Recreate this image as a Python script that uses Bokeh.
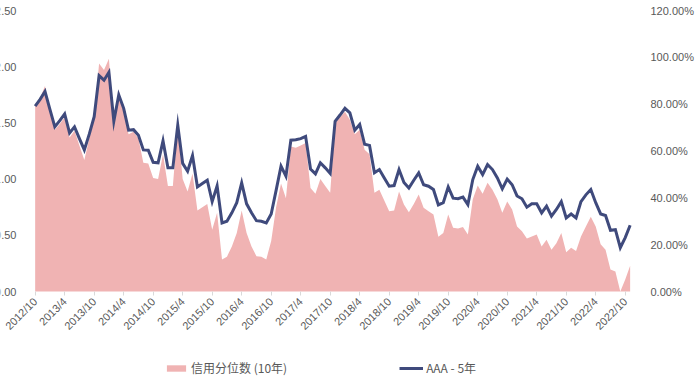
from math import pi
from bokeh.plotting import figure
from bokeh.models import (ColumnDataSource, LinearAxis, Range1d, FixedTicker,
                          PrintfTickFormatter, Legend, LegendItem)
from bokeh.embed import file_html
from bokeh.resources import INLINE

# Monthly observations, 2012/10 .. 2022/11
spread_aaa_5y = [
    1.65, 1.71, 1.78, 1.62, 1.465, 1.52, 1.58, 1.41, 1.465, 1.36,
    1.26, 1.40, 1.555, 1.92, 1.88, 1.95, 1.515, 1.75, 1.63, 1.435,
    1.44, 1.39, 1.26, 1.257, 1.15, 1.145, 1.34, 1.10, 1.10, 1.48,
    1.14, 1.07, 1.21, 0.93, 0.96, 0.99, 0.80, 0.94, 0.61, 0.625,
    0.70, 0.79, 0.967, 0.78, 0.70, 0.63, 0.625, 0.61, 0.69, 0.90,
    1.115, 1.026, 1.346, 1.35, 1.36, 1.38, 1.09, 1.047, 1.145, 1.10,
    1.05, 1.515, 1.57, 1.63, 1.59, 1.435, 1.486, 1.31, 1.30, 1.056,
    1.085, 1.01, 0.937, 0.943, 1.085, 0.97, 0.92, 0.99, 1.056, 0.95,
    0.937, 0.907, 0.77, 0.79, 0.93, 0.83, 0.825, 0.84, 0.774, 0.996,
    1.115, 1.04, 1.13, 1.085, 1.01, 0.914, 1.0, 0.95, 0.85, 0.825,
    0.75, 0.78, 0.78, 0.70, 0.76, 0.67, 0.73, 0.80, 0.655, 0.69,
    0.655, 0.80, 0.86, 0.907, 0.79, 0.69, 0.676, 0.545, 0.55, 0.39,
    0.48, 0.59,
]

credit_pct_10y = [
    79.2, 82.6, 87.8, 76.8, 69.1, 71.5, 74.4, 65.8, 68.6, 62.4,
    56.2, 65.3, 74.4, 97.4, 94.6, 99.4, 72.0, 85.9, 76.8, 67.2,
    68.2, 65.3, 55.0, 54.7, 48.5, 48.0, 58.6, 45.1, 45.1, 70.6,
    48.0, 42.7, 50.4, 34.6, 36.0, 37.4, 26.4, 33.6, 13.7, 14.9,
    19.2, 25.0, 34.6, 25.0, 19.2, 15.1, 14.9, 13.7, 21.6, 36.0,
    46.1, 39.8, 61.9, 61.4, 62.4, 63.4, 44.2, 41.8, 48.0, 45.1,
    42.2, 72.0, 74.4, 76.8, 73.4, 67.2, 69.1, 60.5, 58.6, 42.2,
    43.5, 38.9, 34.3, 34.6, 42.7, 37.2, 33.9, 37.4, 41.4, 35.8,
    34.3, 32.9, 23.4, 25.0, 32.9, 27.2, 26.9, 27.6, 24.3, 39.4,
    45.3, 41.8, 46.4, 43.5, 39.4, 33.6, 38.4, 35.0, 27.8, 25.7,
    22.6, 23.5, 24.3, 19.2, 22.1, 17.8, 20.6, 25.0, 16.8, 18.7,
    17.3, 23.5, 27.8, 31.9, 27.8, 20.2, 17.8, 9.4, 8.6, 0.0,
    5.1, 11.0,
]

tick_labels = [
    "2012/10", "2013/4", "2013/10", "2014/4", "2014/10", "2015/4", "2015/10",
    "2016/4", "2016/10", "2017/4", "2017/10", "2018/4", "2018/10", "2019/4",
    "2019/10", "2020/4", "2020/10", "2021/4", "2021/10", "2022/4", "2022/10",
]

left_ticks = [0.0, 0.5, 1.0, 1.5, 2.0, 2.5]
right_ticks = [0, 20, 40, 60, 80, 100, 120]

x_idx = list(range(len(spread_aaa_5y)))
tick_pos = [i * 6 for i in range(len(tick_labels))]

src = ColumnDataSource(dict(x=x_idx, spread=spread_aaa_5y, pctv=credit_pct_10y))

AREA = "#F0B3B3"
LINE = "#3F4A7C"
TXT = "#595959"

# frame reaches past the plotting area so the in-frame axes' labels and the
# legend are not clipped
LEFT_MIN, LEFT_MAX = -0.756, 2.589
SCALE = 120 / 2.5
X_START, X_END = -7.05, 122.7
Y_AXIS_AT = -0.35

p = figure(frame_width=638, frame_height=376, x_range=Range1d(X_START, X_END),
           y_range=Range1d(LEFT_MIN, LEFT_MAX), output_backend="svg",
           toolbar_location=None, min_border_left=0, min_border_right=10,
           min_border_top=0, min_border_bottom=2)
p.extra_y_ranges = {"pct": Range1d(LEFT_MIN * SCALE, LEFT_MAX * SCALE)}
p.outline_line_color = None
p.xgrid.visible = False
p.ygrid.visible = False

r_area = p.varea(x="x", y1=0, y2="pctv", source=src, y_range_name="pct",
                 fill_color=AREA)
r_line = p.line(x="x", y="spread", source=src, line_color=LINE, line_width=3,
                line_join="miter")

xa = p.xaxis[0]
xa.fixed_location = 0
xa.ticker = FixedTicker(ticks=tick_pos)
xa.major_label_overrides = {t: l for t, l in zip(tick_pos, tick_labels)}
xa.major_label_orientation = pi / 4
xa.axis_line_color = None
xa.major_tick_line_color = "#D9D9D9"
xa.major_tick_in = 0
xa.major_tick_out = 4
xa.minor_tick_line_color = None
xa.major_label_text_font = "Liberation Sans"
xa.major_label_text_font_size = "11px"
xa.major_label_text_color = TXT
xa.major_label_standoff = 4

ya = p.yaxis[0]
ya.fixed_location = Y_AXIS_AT
ya.ticker = FixedTicker(ticks=left_ticks)
ya.formatter = PrintfTickFormatter(format="%.2f")
ya.axis_line_color = None
ya.major_tick_line_color = None
ya.minor_tick_line_color = None
ya.major_label_text_font = "Liberation Sans"
ya.major_label_text_font_size = "11px"
ya.major_label_text_color = TXT
ya.major_label_standoff = 11

ra = LinearAxis(y_range_name="pct", ticker=FixedTicker(ticks=right_ticks),
                formatter=PrintfTickFormatter(format="%.2f%%"))
ra.axis_line_color = None
ra.major_tick_line_color = None
ra.minor_tick_line_color = None
ra.major_label_text_font = "Liberation Sans"
ra.major_label_text_font_size = "11px"
ra.major_label_text_color = TXT
ra.major_label_standoff = 6
p.add_layout(ra, "right")

legend = Legend(items=[LegendItem(label="信用分位数 (10年)", renderers=[r_area]),
                       LegendItem(label="AAA - 5年", renderers=[r_line])],
                orientation="horizontal", location=(164, 0),
                spacing=112, glyph_width=24, glyph_height=8,
                label_height=14, label_standoff=3, padding=2, margin=0,
                label_text_font="Noto Sans CJK SC", label_text_font_size="12px",
                label_text_color=TXT, border_line_color=None,
                background_fill_alpha=0)
p.add_layout(legend, "center")

open("out.html", "w").write(file_html(p, INLINE))
